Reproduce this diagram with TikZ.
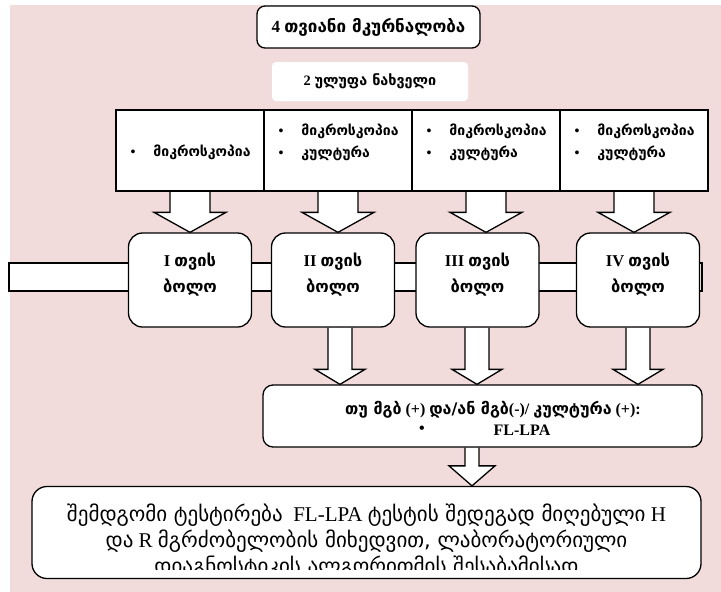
\documentclass[tikz,border=0pt]{standalone}
\usepackage{fontspec}
\setmainfont{Liberation Serif}
\newfontfamily\kafont{DejaVu Sans}
\newcommand\geo[1]{{\kafont #1}}
\usetikzlibrary{calc}
\definecolor{bgpink}{HTML}{F2DCDB}
\tikzset{
  box/.style={draw=black, fill=white, line width=1.3pt},
  tbox/.style={box, rounded corners=8pt, minimum width=223pt, minimum height=42pt, inner sep=0pt, font=\bfseries\fontsize{17}{20}\selectfont},
  sbox/.style={fill=white, rounded corners=4pt, minimum width=196pt, minimum height=39pt, inner sep=0pt, font=\bfseries\fontsize{14.4}{16}\selectfont},
  ubox/.style={box, minimum width=148pt, minimum height=81pt, inner sep=0pt},
  rbox/.style={box, rounded corners=14pt, minimum width=123pt, minimum height=94pt, inner sep=0pt},
  mbox/.style={box, rounded corners=10pt, minimum width=439pt, minimum height=62pt, inner sep=0pt},
  bbox/.style={box, rounded corners=15pt, minimum width=669pt, minimum height=92pt, inner sep=0pt},
  utext/.style={inner sep=0pt, anchor=west, font=\bfseries\fontsize{14}{16}\selectfont},
  rtext/.style={inner sep=0pt, align=center, font=\bfseries\fontsize{16.5}{26}\selectfont},
  mtext/.style={inner sep=0pt, font=\bfseries\fontsize{16}{18}\selectfont},
  btext/.style={inner sep=0pt, align=center, font=\fontsize{21}{26}\selectfont},
  arr/.style={draw=black, fill=white, line width=1.3pt, line join=miter},
}
\newcommand\barrow[6]{\draw[arr] let \p1=(#2), \p2=(#3) in
  (#1-#4,\y1) -- (#1-#4,\y2+#6) -- (#1-#5,\y2+#6) -- (#1,\y2) -- (#1+#5,\y2+#6) -- (#1+#4,\y2+#6) -- (#1+#4,\y1);}
\begin{document}
\begin{tikzpicture}[x=1pt,y=-1pt]
\useasboundingbox (0,0) rectangle (721,592);
\fill[bgpink] (10,5) rectangle (721,592);
% coordinates of the boxes
\path
  (190,150.5) coordinate (cu1) (338,150.5) coordinate (cu2)
  (486,150.5) coordinate (cu3) (634,150.5) coordinate (cu4)
  (190,280) coordinate (cr1) (333,280) coordinate (cr2)
  (477.5,280) coordinate (cr3) (638,280) coordinate (cr4);
% bar behind the month boxes
\draw[box] (9,263) rectangle (702,291);
% invisible placeholders to get anchors
\foreach \i in {1,2,3,4} {
  \node[ubox, draw=none, fill=none] (u\i) at (cu\i) {};
  \node[rbox, draw=none, fill=none] (r\i) at (cr\i) {};
}
\node[mbox, draw=none, fill=none] (mid) at (482.5,416) {};
\node[bbox, draw=none, fill=none] (bot) at (366.5,532.5) {};
% block arrows
\barrow{190}{u1.south}{r1.north}{20}{36}{20}
\barrow{338}{u2.south}{r2.north}{20}{36}{20}
\barrow{486}{u3.south}{r3.north}{20}{36}{20}
\barrow{634}{u4.south}{r4.north}{20}{36}{20}
\barrow{340}{r2.south}{mid.north}{12}{25}{15}
\barrow{477}{r3.south}{mid.north}{12}{25}{15}
\barrow{638}{r4.south}{mid.north}{12}{25}{15}
\barrow{472}{mid.south}{bot.north}{7}{23}{20}
% boxes
\node[tbox] (title) at (368.5,27) {4 \geo{თვიანი მკურნალობა}};
\node[sbox] (sample) at (370,81.5) {2 \geo{ულუფა ნახველი}};
\foreach \i in {1,2,3,4} {
  \node[ubox] at (cu\i) {};
  \node[rbox] at (cr\i) {};
}
\node[mbox] at (482.5,416) {};
\node[bbox] at (366.5,532.5) {};
% texts of the top boxes
\node[utext] (t1) at ($(u1.west)+(15,1.5)$) {\textbullet\hspace{18pt}\geo{მიკროსკოპია}};
\foreach \i in {2,3,4} {
  \node[utext] (ta\i) at ($(u\i.west)+(15,-19.5)$) {\textbullet\hspace{18pt}\geo{მიკროსკოპია}};
  \node[utext] (tb\i) at ($(u\i.west)+(15,2.5)$) {\textbullet\hspace{18pt}\geo{კულტურა}};
}
% month texts
\node[rtext] (m1) at ($(r1.center)+(0,-5)$) {I \geo{თვის}\\\geo{ბოლო}};
\node[rtext] (m2) at ($(r2.center)+(0,-5)$) {II \geo{თვის}\\\geo{ბოლო}};
\node[rtext] (m3) at ($(r3.center)+(0,-5)$) {III \geo{თვის}\\\geo{ბოლო}};
\node[rtext] (m4) at ($(r4.center)+(0,-5)$) {IV \geo{თვის}\\\geo{ბოლო}};
% middle box texts
\node[mtext] (cond) at (493,410) {\geo{თუ მგბ} (+) \geo{და/ან მგბ}(-)/ \geo{კულტურა} (+):};
\node[mtext] (bul) at (422,430) {\textbullet};
\node[mtext] (fl) at (522,430) {FL-LPA};
% bottom text, clipped like the reference
\begin{scope}
\clip (33,488) rectangle (700,569);
\node[btext] (btxt) at (366.5,541) {\geo{შემდგომი ტესტირება}\ \ FL-LPA \geo{ტესტის შედეგად მიღებული} H\\
\geo{და} R \geo{მგრძობელობის მიხედვით, ლაბორატორიული}\\
\geo{დიაგნოსტიკის ალგორითმის შესაბამისად}};
\end{scope}
\end{tikzpicture}
\end{document}
